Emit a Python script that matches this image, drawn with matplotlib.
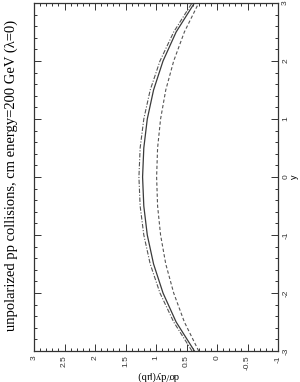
import matplotlib
matplotlib.use("Agg")
import matplotlib.pyplot as plt
from matplotlib.ticker import MultipleLocator, FormatStrFormatter

plt.rcParams['axes.unicode_minus'] = False

# rapidity values
rapidity = [-3.0, -2.5, -2.0, -1.5, -1.0, -0.5, 0.0, 0.5, 1.0, 1.5, 2.0, 2.5, 3.0]
# dsigma/dy (mub) for the three curves
solid_vals = [0.37, 0.67, 0.885, 1.04, 1.143, 1.20, 1.22, 1.20, 1.143, 1.04, 0.885, 0.67, 0.37]
dashdot_vals = [0.41, 0.71, 0.935, 1.095, 1.20, 1.26, 1.28, 1.26, 1.20, 1.095, 0.935, 0.71, 0.41]
dashed_vals = [0.30, 0.535, 0.71, 0.84, 0.925, 0.974, 0.99, 0.974, 0.925, 0.84, 0.71, 0.535, 0.30]

xticks_major = 0.5
yticks_major = 1.0

title = "unpolarized pp collisions, cm energy=200 GeV (\u03bb=0)"
ylab = "d\u03c3/dy(\u03bcb)"
xlab = "y"

fig = plt.figure(figsize=(3.0, 3.82), dpi=100)
ax = fig.add_axes([34/300, 31/382, 244/300, 348/382])

# chart is drawn rotated by 90 degrees: horizontal = dsigma/dy (inverted), vertical = y
ax.plot(solid_vals, rapidity, color='#3a3a3a', lw=0.9, ls='-')
ax.plot(dashdot_vals, rapidity, color='#555555', lw=0.8, ls=(0, (4, 1.5, 1, 1.5)))
ax.plot(dashed_vals, rapidity, color='#555555', lw=0.8, ls=(0, (3, 2)))

ax.set_xlim(3, -1)
ax.set_ylim(-3, 3)

ax.xaxis.set_major_locator(MultipleLocator(0.5))
ax.xaxis.set_minor_locator(MultipleLocator(0.1))
ax.yaxis.set_major_locator(MultipleLocator(1))
ax.yaxis.set_minor_locator(MultipleLocator(0.2))
ax.xaxis.set_major_formatter(FormatStrFormatter('%g'))
ax.yaxis.set_major_formatter(FormatStrFormatter('%g'))

ax.tick_params(axis='both', which='both', direction='in', top=True, bottom=True,
               left=True, right=True, labelleft=False, labelright=True,
               labelbottom=True, width=0.7, colors='#333333')
ax.tick_params(which='major', length=5)
ax.tick_params(which='minor', length=2.5)
ax.tick_params(axis='x', labelsize=6, pad=3)
ax.tick_params(axis='y', labelsize=6, pad=3)
for lab in ax.get_xticklabels():
    lab.set_rotation(90)
    lab.set_family('Liberation Sans')
for lab in ax.get_yticklabels():
    lab.set_rotation(90)
    lab.set_family('Liberation Sans')
    lab.set_va('center')

for sp in ax.spines.values():
    sp.set_linewidth(0.9)
    sp.set_color('#333333')

fig.text(11/300, 1 - 175/382, title, rotation=90, ha='center', va='center',
         family='Liberation Serif', fontsize=10.5)
fig.text(158/300, 1 - 376/382, ylab, rotation=180, ha='center', va='center',
         family='Liberation Serif', fontsize=7.5)
fig.text(294/300, 1 - 177/382, xlab, rotation=90, ha='center', va='center',
         family='Liberation Sans', fontsize=6.5)

fig.savefig("out.png", dpi=100)
